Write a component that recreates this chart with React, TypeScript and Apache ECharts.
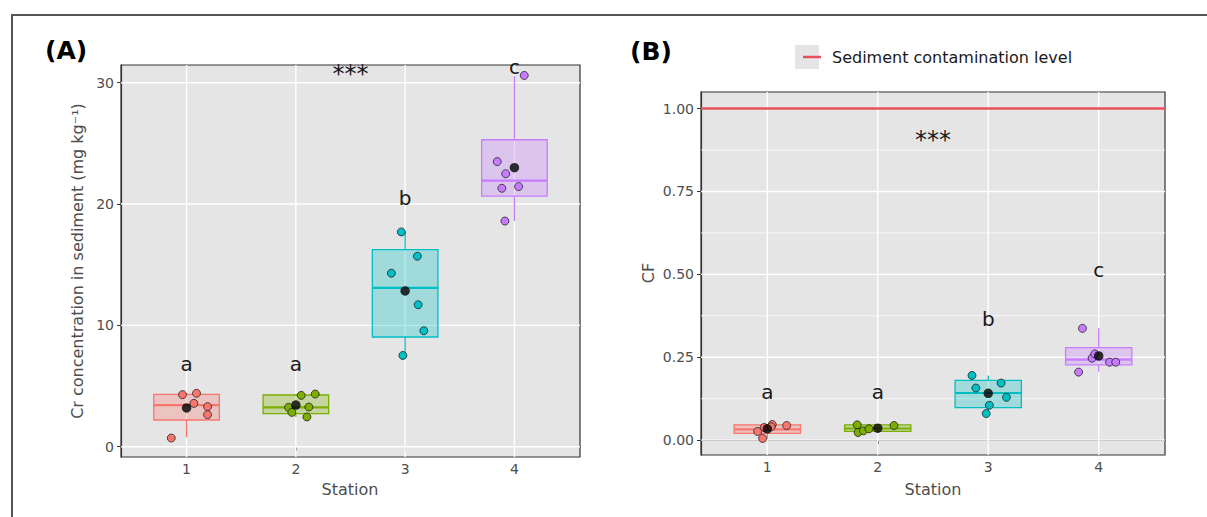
import React, { useEffect, useRef } from "react";
import * as echarts from "echarts";

// ---------- data ----------
const stations = [1, 2, 3, 4];
const stationColors = ["#F8766D", "#7CAE00", "#00BFC4", "#C77CFF"];
const groupLetters = ["a", "a", "b", "c"];

// Panel A: Cr concentration (mg/kg) — jitter offsets and values per station
const crOffsets = [
  [-0.14, -0.037, 0.067, 0.091, 0.192, 0.192],
  [0.049, 0.177, -0.067, -0.037, 0.119, 0.101],
  [-0.035, 0.112, -0.126, 0.119, 0.171, -0.021],
  [0.09, -0.157, -0.08, -0.115, 0.038, -0.087],
];
const crValues = [
  [0.71, 4.29, 3.57, 4.4, 3.3, 2.64],
  [4.23, 4.34, 3.24, 2.83, 3.27, 2.45],
  [17.7, 15.7, 14.3, 11.7, 9.56, 7.52],
  [30.6, 23.5, 22.5, 21.3, 21.44, 18.6],
];
const crLow = [0.77, 2.45, 7.52, 18.6];
const crQ1 = [2.2, 2.72, 9.04, 20.66];
const crMedian = [3.43, 3.24, 13.09, 21.93];
const crQ3 = [4.31, 4.26, 16.24, 25.3];
const crHigh = [4.4, 4.34, 17.7, 30.55];
const crMean = [3.19, 3.43, 12.84, 23.0];
const crLetterY = [6.8, 6.8, 20.5, 31.3];
const crSignif = { x: 2.5, y: 30.68, text: "***" };
const crTicks = [0, 10, 20, 30];

// Panel B: contamination factor CF
const cfOffsets = [
  [-0.042, -0.087, -0.028, 0.045, 0.035, 0.175],
  [-0.186, -0.178, -0.13, -0.08, 0.147],
  [-0.147, -0.112, 0.116, 0.165, 0.01, -0.018],
  [-0.147, -0.182, -0.06, -0.035, 0.098, 0.154],
];
const cfValues = [
  [0.005, 0.026, 0.038, 0.047, 0.04, 0.044],
  [0.046, 0.023, 0.028, 0.034, 0.044],
  [0.195, 0.157, 0.172, 0.129, 0.105, 0.08],
  [0.337, 0.205, 0.247, 0.26, 0.235, 0.235],
];
const cfLow = [0.005, 0.023, 0.08, 0.206];
const cfQ1 = [0.02, 0.026, 0.098, 0.227];
const cfMedian = [0.032, 0.035, 0.142, 0.243];
const cfQ3 = [0.046, 0.046, 0.18, 0.279];
const cfHigh = [0.047, 0.046, 0.195, 0.337];
const cfMean = [0.034, 0.036, 0.141, 0.254];
const cfLetterY = [0.144, 0.144, 0.364, 0.513];
const cfSignif = { x: 2.5, y: 0.905, text: "***" };
const cfTicks = [0, 0.25, 0.5, 0.75, 1.0];
const cfMinorTicks = [0.125, 0.375, 0.625, 0.875];
const contaminationLevel = 1.0;
const legendName = "Sediment contamination level";

// axis ranges
const xRange = [0.4, 4.6];
const crRange = [-0.85, 31.46];
const cfRange = [-0.045, 1.05];

// ---------- helpers ----------
const FONT = "DejaVu Sans";
const PANEL_BG = "#E5E5E5";
const TEXT_GREY = "#4D4D4D";
const BORDER = "#333333";

function hexToRgba(hex: string, a: number) {
  const h = hex.replace("#", "");
  const r = parseInt(h.slice(0, 2), 16);
  const g = parseInt(h.slice(2, 4), 16);
  const b = parseInt(h.slice(4, 6), 16);
  return `rgba(${r},${g},${b},${a})`;
}

const boxRender = (params: any, api: any) => {
  const x = api.value(0);
  const lo = api.value(1);
  const q1 = api.value(2);
  const med = api.value(3);
  const q3 = api.value(4);
  const hi = api.value(5);
  const c = stationColors[params.dataIndex];
  const half = 0.3;
  const tl = api.coord([x - half, q3]);
  const br = api.coord([x + half, q1]);
  const pm = api.coord([x, med]);
  const pHi = api.coord([x, hi]);
  const pLo = api.coord([x, lo]);
  return {
    type: "group",
    children: [
      { type: "line", shape: { x1: pHi[0], y1: pHi[1], x2: pHi[0], y2: tl[1] }, style: { stroke: c, lineWidth: 1.3 } },
      { type: "line", shape: { x1: pLo[0], y1: br[1], x2: pLo[0], y2: pLo[1] }, style: { stroke: c, lineWidth: 1.3 } },
      {
        type: "rect",
        shape: { x: tl[0], y: tl[1], width: br[0] - tl[0], height: br[1] - tl[1] },
        style: { fill: hexToRgba(c, 0.3), stroke: c, lineWidth: 1.3 },
      },
      { type: "line", shape: { x1: tl[0], y1: pm[1], x2: br[0], y2: pm[1] }, style: { stroke: c, lineWidth: 2.2 } },
    ],
  };
};

const vGridRender = (params: any, api: any) => {
  const p = api.coord([api.value(0), api.value(1)]);
  const cs = params.coordSys;
  return {
    type: "line",
    shape: { x1: p[0], y1: cs.y, x2: p[0], y2: cs.y + cs.height },
    style: { stroke: "#FFFFFF", lineWidth: 1.4 },
  };
};

const hGridRender = (params: any, api: any) => {
  const p = api.coord([api.value(0), api.value(1)]);
  const cs = params.coordSys;
  return {
    type: "line",
    shape: { x1: cs.x, y1: p[1], x2: cs.x + cs.width, y2: p[1] },
    style: { stroke: "#FFFFFF", lineWidth: api.value(2) },
  };
};

const makeTextRender = (labels: string[], sizes: number[]) => (params: any, api: any) => {
  const p = api.coord([api.value(0), api.value(1)]);
  return {
    type: "text",
    x: p[0],
    y: p[1],
    style: {
      text: labels[params.dataIndex],
      fontFamily: FONT,
      fontSize: sizes[params.dataIndex],
      fill: "#1A1A1A",
      align: "center",
      verticalAlign: "middle",
    },
  };
};

function buildPanelSeries(
  idx: number,
  offsets: number[][],
  values: number[][],
  low: number[],
  q1: number[],
  med: number[],
  q3: number[],
  high: number[],
  mean: number[],
  letterY: number[],
  signif: { x: number; y: number; text: string },
  majorTicks: number[],
  minorTicks: number[],
  yMid: number
) {
  const axes = { xAxisIndex: idx, yAxisIndex: idx };
  const points: any[] = [];
  offsets.forEach((offs, s) => {
    offs.forEach((o, j) => {
      points.push({
        value: [stations[s] + o, values[s][j]],
        itemStyle: { color: stationColors[s] },
      });
    });
  });
  const hLines = [
    ...majorTicks.map((v) => [1, v, 1.4]),
    ...minorTicks.map((v) => [1, v, 0.7]),
  ];
  const letterPos = stations.map((s, i) => [s, letterY[i]]);
  letterPos.push([signif.x, signif.y]);
  const letterText = [...groupLetters, signif.text];
  const letterSizes = [...groupLetters.map(() => 20), 24];
  return [
    {
      type: "custom",
      ...axes,
      z: 1,
      silent: true,
      renderItem: hGridRender,
      encode: { x: 0, y: 1 },
      data: hLines,
    },
    {
      type: "custom",
      ...axes,
      z: 1,
      silent: true,
      renderItem: vGridRender,
      encode: { x: 0, y: 1 },
      data: stations.map((s) => [s, yMid]),
    },
    {
      type: "custom",
      ...axes,
      z: 2,
      renderItem: boxRender,
      encode: { x: 0, y: [1, 2, 3, 4, 5] },
      data: stations.map((s, i) => [s, low[i], q1[i], med[i], q3[i], high[i]]),
    },
    {
      type: "scatter",
      ...axes,
      z: 3,
      symbolSize: 8,
      itemStyle: { borderColor: "rgba(20,20,20,0.8)", borderWidth: 0.9, opacity: 1 },
      data: points,
    },
    {
      type: "scatter",
      ...axes,
      z: 4,
      symbolSize: 9.5,
      itemStyle: { color: "#000000" },
      data: stations.map((s, i) => [s, mean[i]]),
    },
    {
      type: "custom",
      ...axes,
      z: 5,
      renderItem: makeTextRender(letterText, letterSizes),
      encode: { x: 0, y: 1 },
      data: letterPos,
    },
  ];
}

function xAxisOpt(gridIndex: number) {
  return {
    type: "value",
    gridIndex,
    min: xRange[0],
    max: xRange[1],
    splitLine: { show: false },
    axisLine: { show: true, lineStyle: { color: BORDER, width: 1.2 } },
    axisTick: { show: true, length: 4, customValues: stations, lineStyle: { color: BORDER, width: 1 } },
    axisLabel: {
      customValues: stations,
      margin: 5,
      color: TEXT_GREY,
      fontFamily: FONT,
      fontSize: 14,
      formatter: (v: number) => String(Math.round(v)),
    },
  };
}

function yAxisOpt(gridIndex: number, range: number[], ticks: number[], fmt: (v: number) => string) {
  return {
    type: "value",
    gridIndex,
    min: range[0],
    max: range[1],
    splitLine: { show: false },
    axisLine: { show: true, lineStyle: { color: BORDER, width: 1.2 } },
    axisTick: { show: true, length: 4, customValues: ticks, lineStyle: { color: BORDER, width: 1 } },
    axisLabel: {
      customValues: ticks,
      margin: 7,
      color: TEXT_GREY,
      fontFamily: FONT,
      fontSize: 14,
      formatter: fmt,
    },
  };
}

export default function App() {
  const ref = useRef<HTMLDivElement>(null);
  useEffect(() => {
    if (!ref.current) return;
    const chart = echarts.init(ref.current, undefined, { renderer: "svg" });
    const seriesA = buildPanelSeries(
      0, crOffsets, crValues, crLow, crQ1, crMedian, crQ3, crHigh, crMean,
      crLetterY, crSignif, crTicks, [], 15
    );
    const seriesB = buildPanelSeries(
      1, cfOffsets, cfValues, cfLow, cfQ1, cfMedian, cfQ3, cfHigh, cfMean,
      cfLetterY, cfSignif, cfTicks, cfMinorTicks, 0.5
    );
    const option: any = {
      animation: false,
      backgroundColor: "#FFFFFF",
      textStyle: { fontFamily: FONT },
      grid: [
        { left: 121, top: 65, width: 459, height: 392, show: true, backgroundColor: PANEL_BG, borderColor: BORDER, borderWidth: 1.2 },
        { left: 701, top: 92, width: 464, height: 363, show: true, backgroundColor: PANEL_BG, borderColor: BORDER, borderWidth: 1.2 },
      ],
      xAxis: [xAxisOpt(0), xAxisOpt(1)],
      yAxis: [
        yAxisOpt(0, crRange, crTicks, (v: number) => String(Math.round(v))),
        yAxisOpt(1, cfRange, cfTicks, (v: number) => v.toFixed(2)),
      ],
      legend: {
        data: [legendName],
        left: 798,
        top: 43,
        icon: "rect",
        itemWidth: 18,
        itemHeight: 2.5,
        selectedMode: false,
        textStyle: { fontFamily: FONT, fontSize: 16, color: "#1A1A1A", lineHeight: 18, padding: [0, 0, 0, 6] },
      },
      graphic: [
        {
          type: "polyline",
          shape: { points: [[12, 517], [12, 15], [1207, 15]] },
          style: { stroke: "#555555", lineWidth: 2, fill: "none" },
          silent: true,
        },
        { type: "rect", shape: { x: 795, y: 45, width: 24, height: 24 }, style: { fill: "#E5E5E5" }, z: -1, silent: true },
        { type: "text", x: 45, y: 50, style: { text: "(A)", fontFamily: FONT, fontWeight: "bold", fontSize: 25, fill: "#000", align: "left", verticalAlign: "middle" } },
        { type: "text", x: 630, y: 51, style: { text: "(B)", fontFamily: FONT, fontWeight: "bold", fontSize: 25, fill: "#000", align: "left", verticalAlign: "middle" } },
        { type: "text", x: 350, y: 489, style: { text: "Station", fontFamily: FONT, fontSize: 16, fill: TEXT_GREY, align: "center", verticalAlign: "middle" } },
        { type: "text", x: 933, y: 489, style: { text: "Station", fontFamily: FONT, fontSize: 16, fill: TEXT_GREY, align: "center", verticalAlign: "middle" } },
        { type: "text", x: 77, y: 261, rotation: Math.PI / 2, style: { text: "Cr concentration in sediment (mg kg⁻¹)", fontFamily: FONT, fontSize: 16, fill: TEXT_GREY, align: "center", verticalAlign: "middle" } },
        { type: "text", x: 648, y: 273, rotation: Math.PI / 2, style: { text: "CF", fontFamily: FONT, fontSize: 16, fill: TEXT_GREY, align: "center", verticalAlign: "middle" } },
      ],
      series: [
        ...seriesA,
        ...seriesB,
        {
          type: "line",
          name: legendName,
          xAxisIndex: 1,
          yAxisIndex: 1,
          z: 2,
          color: "#E8505C",
          symbol: "none",
          lineStyle: { color: "#E8505C", width: 2.5 },
          data: [],
          markLine: {
            silent: true,
            symbol: "none",
            label: { show: false },
            lineStyle: { color: "#E8505C", width: 2.5, type: "solid" },
            data: [{ yAxis: contaminationLevel }],
          },
        },
      ],
    };
    chart.setOption(option);
    return () => chart.dispose();
  }, []);
  return <div ref={ref} style={{ position: "absolute", left: 0, top: 0, width: 1207, height: 517 }} />;
}
